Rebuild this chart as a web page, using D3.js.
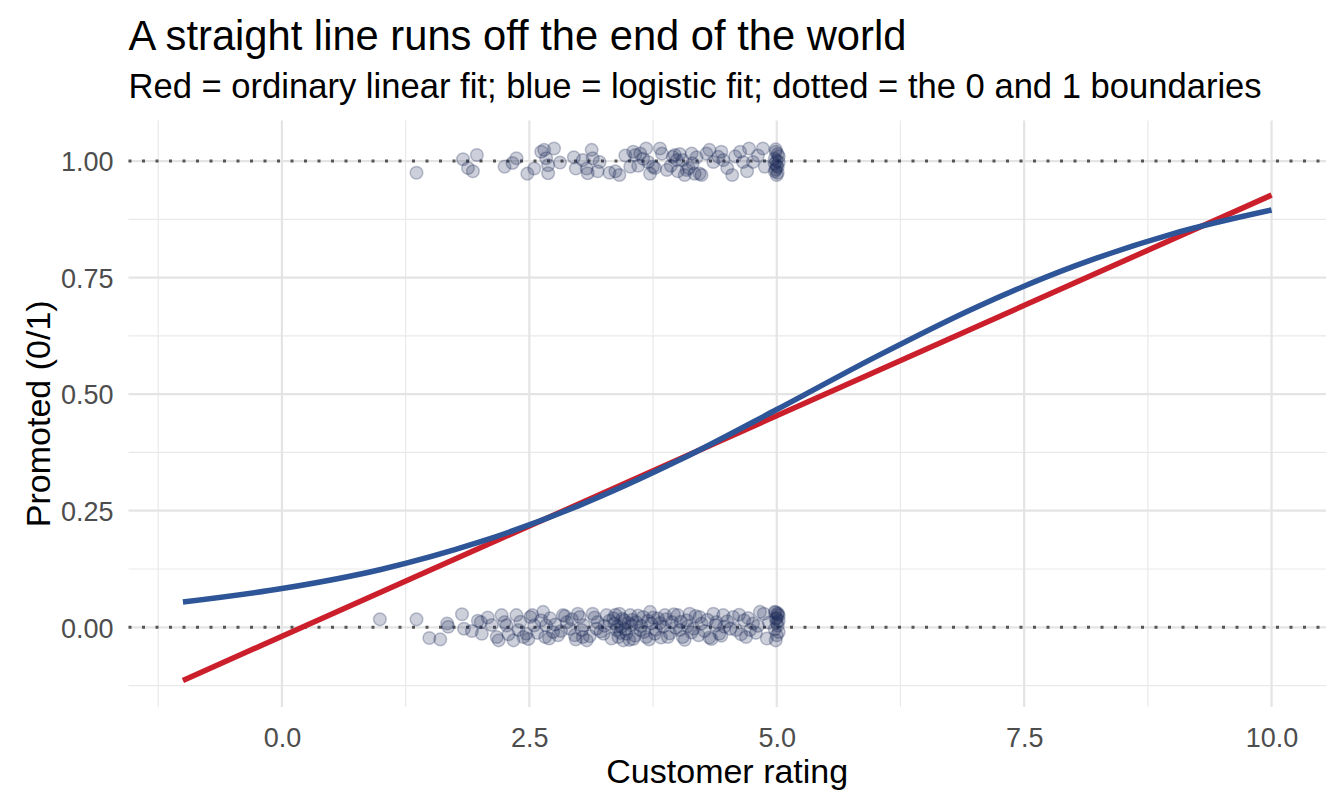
<!DOCTYPE html>
<html>
<head>
<meta charset="utf-8">
<script src="https://cdn.jsdelivr.net/npm/d3@7"></script>
<style>
  body { margin: 0; background: #fff; }
  text { font-family: "Liberation Sans", Arial, Helvetica, sans-serif; }
</style>
</head>
<body>
<div class="chart"></div>
<script>
// DATA ------------------------------------

const titleText = "A straight line runs off the end of the world"
const subtitleText = "Red = ordinary linear fit; blue = logistic fit; dotted = the 0 and 1 boundaries"

const xTicks = [0, 2.5, 5, 7.5, 10]
const xMinor = [-1.25, 1.25, 3.75, 6.25, 8.75]
const yTicks = [0, 0.25, 0.5, 0.75, 1]
const yMinor = [-0.125, 0.125, 0.375, 0.625, 0.875]
const boundaries = [0, 1]

// jittered observations, promoted = 1 (rating, jittered y)
const promotedPts = [
  [1.36,0.975],[1.83,1.004],[1.97,1.013],[1.88,0.985],[1.93,0.978],[2.25,0.988],[2.33,0.996],
  [2.37,1.006],[2.48,0.973],[2.55,0.984],[2.62,1.02],[2.65,1.024],[2.67,1.006],[2.69,0.991],
  [2.69,0.974],[2.75,1.027],[2.81,0.997],[2.97,0.984],[2.95,1.008],[3.04,1.002],[3.08,0.984],
  [3.09,0.974],[3.13,1.024],[3.14,1.006],[3.21,0.998],[3.19,0.978],[3.31,0.975],[3.37,0.978],
  [3.41,0.970],[3.47,1.012],[3.52,0.988],[3.55,1.02],[3.57,1.013],[3.60,0.99],[3.62,1.016],
  [3.65,1.005],[3.68,1.027],[3.70,0.998],[3.72,0.973],[3.75,0.988],[3.77,0.985],[3.82,1.027],
  [3.84,1.016],[3.89,0.981],[3.93,0.99],[3.95,1.009],[3.97,1.013],[3.99,1.002],[4.00,0.978],
  [4.02,1.015],[4.05,1.002],[4.07,0.970],[4.09,0.981],[4.11,0.985],[4.14,1.016],[4.15,0.995],
  [4.17,0.973],[4.19,1.008],[4.22,0.973],[4.24,0.970],[4.29,1.016],[4.32,1.024],[4.36,0.998],
  [4.41,1.009],[4.44,1.02],[4.46,1.002],[4.50,0.985],[4.55,0.970],[4.58,1.01],[4.63,1.02],
  [4.66,0.998],[4.70,0.978],[4.72,1.027],[4.76,0.998],[4.81,1.012],[4.86,1.027],[4.88,0.988],
  [4.99,1.025],[5.01,1.015],[4.98,1.005],[5.02,0.998],[5.00,0.99],[4.99,0.982],[5.01,0.975],
  [5.00,1.0],[4.98,0.995],[5.02,1.01],[5.00,0.97],[4.99,1.02],[5.01,0.987],[4.98,0.978]
]

// jittered observations, promoted = 0
const notPromotedPts = [
  [0.99,0.017],[1.36,0.017],[1.49,-0.023],[1.60,-0.026],[1.67,0.008],[1.68,0.001],[1.82,0.028],
  [1.84,-0.003],[1.92,-0.008],[1.98,0.014],[2.01,0.011],[2.02,-0.014],[2.08,0.021],[2.12,0.005],
  [2.17,-0.021],[2.19,-0.028],[2.22,0.026],[2.25,0.011],[2.27,0.004],[2.29,-0.015],[2.34,-0.028],
  [2.37,0.026],[2.39,-0.006],[2.41,0.012],[2.44,-0.021],[2.47,-0.014],[2.49,-0.025],[2.51,0.022],
  [2.53,0.026],[2.55,0.004],[2.58,-0.012],[2.62,0.015],[2.64,0.033],[2.66,-0.021],[2.67,0.004],
  [2.70,-0.024],[2.71,0.019],[2.74,-0.010],[2.76,0.006],[2.79,-0.017],[2.82,-0.008],[2.84,0.026],
  [2.86,0.024],[2.88,0.011],[2.91,-0.003],[2.93,0.017],[2.96,-0.017],[2.97,-0.026],[2.99,0.029],
  [3.01,0.022],[3.03,-0.006],[3.04,-0.021],[3.05,0.004],[3.08,-0.028],[3.11,-0.019],[3.14,0.029],
  [3.16,0.021],[3.18,-0.003],[3.19,0.011],[3.22,-0.009],[3.25,-0.014],[3.26,0.003],[3.28,0.026],
  [3.31,0.014],[3.33,-0.024],[3.35,0.019],[3.36,0.008],[3.37,0.027],[3.38,-0.006],[3.39,0.001],
  [3.40,-0.021],[3.41,0.029],[3.42,-0.012],[3.43,0.001],[3.44,0.018],[3.45,-0.028],[3.46,0.015],
  [3.47,-0.004],[3.48,-0.014],[3.50,0.009],[3.51,-0.027],[3.52,0.026],[3.53,0.004],[3.54,0.016],
  [3.55,-0.025],[3.57,-0.018],[3.58,0.011],[3.60,0.025],[3.62,-0.006],[3.63,0.003],[3.65,0.022],
  [3.66,-0.010],[3.68,-0.021],[3.70,0.014],[3.71,-0.026],[3.72,0.033],[3.73,0.008],[3.75,0.021],
  [3.77,-0.014],[3.78,-0.005],[3.80,0.019],[3.82,0.009],[3.83,-0.022],[3.85,0.001],[3.87,0.026],
  [3.88,0.017],[3.90,-0.021],[3.92,-0.013],[3.94,0.011],[3.96,0.028],[3.98,-0.001],[4.00,0.026],
  [4.02,-0.006],[4.03,0.012],[4.05,-0.021],[4.07,-0.027],[4.09,0.015],[4.10,0.002],[4.12,0.029],
  [4.14,-0.011],[4.16,-0.003],[4.18,0.024],[4.21,-0.017],[4.22,0.022],[4.24,0.008],[4.27,-0.008],
  [4.30,0.016],[4.32,-0.022],[4.34,-0.025],[4.36,0.029],[4.38,0.004],[4.39,0.011],[4.42,-0.014],
  [4.44,-0.018],[4.46,0.026],[4.47,0.001],[4.50,0.013],[4.53,-0.003],[4.56,0.022],[4.59,-0.006],
  [4.62,0.027],[4.64,-0.015],[4.67,0.015],[4.69,-0.021],[4.71,0.020],[4.73,-0.006],[4.76,0.008],
  [4.79,-0.012],[4.81,0.003],[4.83,0.033],[4.87,0.029],[4.90,-0.024],[4.92,0.010],
  [4.98,0.033],[5.01,0.030],[5.02,0.025],[4.99,0.018],[5.00,0.010],[5.01,0.004],[4.98,-0.004],
  [5.02,-0.010],[5.00,-0.017],[4.99,-0.028],[5.01,0.028],[5.00,0.020],[4.99,0.032],[5.02,0.014]
]

// fitted lines
const linearX = [-1, 10]
const linearY = [-0.114, 0.927]
const logisticX = [-1, 0, 1, 2, 3, 4, 5, 6, 7, 8, 9, 10]
const logisticY = [0.054, 0.083, 0.124, 0.183, 0.261, 0.357, 0.467, 0.580, 0.685, 0.774, 0.844, 0.895]

// CHART INIT ------------------------------

const W = 1344, H = 806
const panel = {left: 128.5, right: 1326, top: 120.5, bottom: 707}

const svg = d3.select(".chart").append("svg")
    .attr("width", W)
    .attr("height", H)

const xScale = d3.scaleLinear()
    .domain([-1.55, 10.55])
    .range([panel.left, panel.right])

const yScale = d3.scaleLinear()
    .domain([-0.171, 1.087])
    .range([panel.bottom, panel.top])

// grid
const grid = svg.append("g").attr("class", "grid")

grid.selectAll(".x-minor").data(xMinor).join("line")
    .attr("x1", d => xScale(d)).attr("x2", d => xScale(d))
    .attr("y1", panel.top).attr("y2", panel.bottom)
    .attr("stroke", "#e9e9e9").attr("stroke-width", 1.2)

grid.selectAll(".y-minor").data(yMinor).join("line")
    .attr("class", "y-minor")
    .attr("x1", panel.left).attr("x2", panel.right)
    .attr("y1", d => yScale(d)).attr("y2", d => yScale(d))
    .attr("stroke", "#e9e9e9").attr("stroke-width", 1.2)

grid.selectAll(".x-major").data(xTicks).join("line")
    .attr("class", "x-major")
    .attr("x1", d => xScale(d)).attr("x2", d => xScale(d))
    .attr("y1", panel.top).attr("y2", panel.bottom)
    .attr("stroke", "#e4e4e4").attr("stroke-width", 2.2)

grid.selectAll(".y-major").data(yTicks).join("line")
    .attr("class", "y-major")
    .attr("x1", panel.left).attr("x2", panel.right)
    .attr("y1", d => yScale(d)).attr("y2", d => yScale(d))
    .attr("stroke", "#e4e4e4").attr("stroke-width", 2.2)

// axes (text only, theme_minimal style)
const xAx = d3.axisBottom(xScale).tickValues(xTicks).tickFormat(d3.format(".1f")).tickSize(0).tickPadding(0)
const yAx = d3.axisLeft(yScale).tickValues(yTicks).tickFormat(d3.format(".2f")).tickSize(0).tickPadding(0)

svg.append("g")
    .attr("transform", `translate(0, ${panel.bottom + 40})`)
    .call(xAx)
    .call(g => g.select(".domain").remove())
    .call(g => g.selectAll("text")
        .attr("dy", 0)
        .attr("fill", "#4d4d4d")
        .style("font-size", "27px"))

svg.append("g")
    .attr("transform", `translate(${panel.left - 15}, 0)`)
    .call(yAx)
    .call(g => g.select(".domain").remove())
    .call(g => g.selectAll("text")
        .attr("dy", "0.36em")
        .attr("fill", "#4d4d4d")
        .style("font-size", "27px"))

// boundaries
svg.append("g").selectAll("line").data(boundaries).join("line")
    .attr("x1", panel.left).attr("x2", panel.right)
    .attr("y1", d => yScale(d)).attr("y2", d => yScale(d))
    .attr("stroke", "#555555")
    .attr("stroke-width", 3)
    .attr("stroke-dasharray", "3 10.5")

// points
const allPts = promotedPts.concat(notPromotedPts)
svg.append("g").selectAll("circle").data(allPts).join("circle")
    .attr("cx", d => xScale(d[0]))
    .attr("cy", d => yScale(d[1]))
    .attr("r", 6.3)
    .attr("fill", "#1c2b58")
    .attr("fill-opacity", 0.22)
    .attr("stroke", "#1c2b58")
    .attr("stroke-opacity", 0.28)
    .attr("stroke-width", 1.5)

// fitted lines
const line = d3.line()
    .x(d => xScale(d[0]))
    .y(d => yScale(d[1]))

svg.append("path")
    .datum(d3.zip(linearX, linearY))
    .attr("d", line)
    .attr("fill", "none")
    .attr("stroke", "#cb1f2b")
    .attr("stroke-width", 5.5)

svg.append("path")
    .datum(d3.zip(logisticX, logisticY))
    .attr("d", line.curve(d3.curveMonotoneX))
    .attr("fill", "none")
    .attr("stroke", "#2e5597")
    .attr("stroke-width", 5.5)

// titles
svg.append("text")
    .attr("x", panel.left)
    .attr("y", 50)
    .style("font-size", "41.7px")
    .attr("fill", "#000")
    .text(titleText)

svg.append("text")
    .attr("x", panel.left)
    .attr("y", 98)
    .style("font-size", "34.6px")
    .attr("fill", "#000")
    .text(subtitleText)

svg.append("text")
    .attr("x", (panel.left + panel.right) / 2)
    .attr("y", 783)
    .attr("text-anchor", "middle")
    .style("font-size", "34px")
    .attr("fill", "#000")
    .text("Customer rating")

svg.append("text")
    .attr("transform", `translate(50, ${(panel.top + panel.bottom) / 2}) rotate(-90)`)
    .attr("text-anchor", "middle")
    .style("font-size", "34px")
    .attr("fill", "#000")
    .text("Promoted (0/1)")
</script>
</body>
</html>
